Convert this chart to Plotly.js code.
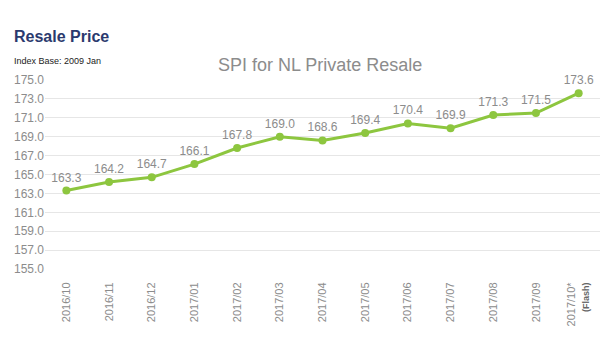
<!DOCTYPE html>
<html>
<head>
<meta charset="utf-8">
<script src="https://cdn.plot.ly/plotly-3.0.1.min.js"></script>
<style>html,body{margin:0;padding:0;background:#fff;}#chart{width:604px;height:360px;}</style>
</head>
<body>
<div id="chart"></div>
<script>
const categories = ["2016/10","2016/11","2016/12","2017/01","2017/02","2017/03","2017/04","2017/05","2017/06","2017/07","2017/08","2017/09","2017/10*"];
const tickLabels = ["2016/10","2016/11","2016/12","2017/01","2017/02","2017/03","2017/04","2017/05","2017/06","2017/07","2017/08","2017/09","2017/10*<br><b style='font-size:9px;fill:#666'>(Flash)</b>"];
const spiValues = [163.3,164.2,164.7,166.1,167.8,169.0,168.6,169.4,170.4,169.9,171.3,171.5,173.6];
const yTicks = [155,157,159,161,163,165,167,169,171,173,175];

const font = "Liberation Sans, Arial, sans-serif";
const trace = {
  x: categories,
  y: spiValues,
  type: "scatter",
  mode: "lines+markers+text",
  text: spiValues.map(v => v.toFixed(1)),
  textposition: "top center",
  textfont: {family: font, size: 12, color: "#8c8c8c"},
  line: {color: "#8dc63f", width: 3},
  marker: {color: "#8dc63f", size: 8},
  cliponaxis: false,
  hoverinfo: "none"
};
const layout = {
  width: 604, height: 360,
  margin: {l: 45, r: 4, t: 80, b: 91},
  paper_bgcolor: "#fff", plot_bgcolor: "#fff",
  showlegend: false,
  font: {family: font, color: "#8c8c8c"},
  title: {text: "SPI for NL Private Resale", font: {family: font, size: 18, color: "#8c8c8c"}, x: 0.53, xanchor: "center", y: 0.82, yanchor: "middle"},
  xaxis: {
    type: "category",
    tickvals: categories, ticktext: tickLabels,
    tickangle: -90,
    tickfont: {family: font, size: 11, color: "#8c8c8c"},
    showgrid: false, zeroline: false, showline: false,
    ticks: "outside", ticklen: 8, tickcolor: "rgba(0,0,0,0)",
    range: [-0.5, 12.5]
  },
  yaxis: {
    range: [155, 175],
    tickvals: yTicks,
    ticktext: yTicks.map(v => v.toFixed(1)),
    tickfont: {family: font, size: 12, color: "#8c8c8c"},
    showgrid: true, gridcolor: "#e6e6e6", gridwidth: 1,
    zeroline: false, showline: false, ticks: "", ticklen: 4
  },
  annotations: [
    {text: "<b>Resale Price</b>", xref: "paper", yref: "paper", x: -0.06, y: 1.0, xanchor: "left", yanchor: "middle", showarrow: false,
     font: {family: font, size: 16, color: "#2b3a6e"}, yshift: 44},
    {text: "Index Base: 2009 Jan", xref: "paper", yref: "paper", x: -0.06, y: 1.0, xanchor: "left", yanchor: "middle", showarrow: false,
     font: {family: font, size: 9, color: "#222"}, yshift: 19}
  ]
};
Plotly.newPlot("chart", [trace], layout, {staticPlot: true, displayModeBar: false});
</script>
</body>
</html>
